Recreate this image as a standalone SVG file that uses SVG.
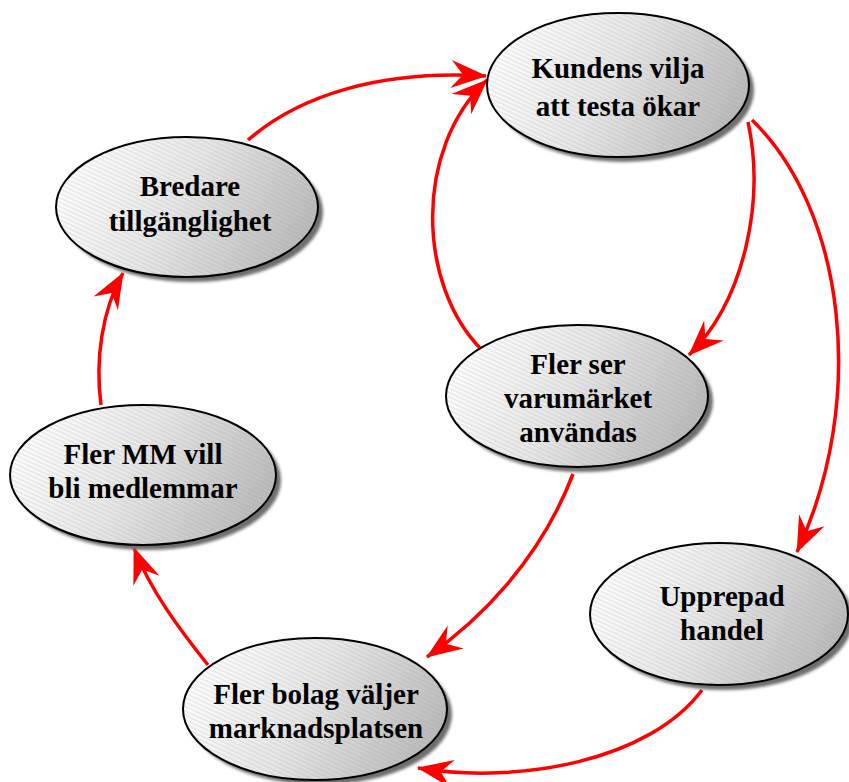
<svg xmlns="http://www.w3.org/2000/svg" width="849" height="782" viewBox="0 0 849 782">
  <defs>
    <linearGradient id="g" x1="0" y1="0.35" x2="1" y2="0.65">
      <stop offset="0" stop-color="#ffffff"/>
      <stop offset="0.45" stop-color="#e8e8e8"/>
      <stop offset="1" stop-color="#b8b8b8"/>
    </linearGradient>
    <pattern id="h" patternUnits="userSpaceOnUse" width="8" height="4" patternTransform="rotate(25)">
      <line x1="0" y1="2" x2="8" y2="2" stroke="#a0a0a0" stroke-width="0.6" stroke-opacity="0.55"/>
    </pattern>
    <filter id="blur" x="-10%" y="-10%" width="120%" height="120%">
      <feGaussianBlur stdDeviation="1.5"/>
    </filter>
    <marker id="arr" markerUnits="userSpaceOnUse" markerWidth="36" markerHeight="30" viewBox="0 0 36 30" refX="35" refY="15" orient="auto">
      <path d="M36,15 L0,1 L12,15 L0,29 Z" fill="#ff0000"/>
    </marker>
  </defs>
  <style>
    .sh { fill: #6e6e6e; filter: url(#blur); }
    .bg { fill: url(#g); }
    .ht { fill: url(#h); stroke: #000; stroke-width: 2; }
    .t { font-family: "Liberation Serif", "Times New Roman", serif; font-weight: bold; font-size: 29px; text-anchor: middle; fill: #000; }
    .c { fill: none; stroke: #ff0000; stroke-width: 3.5; marker-end: url(#arr); }
  </style>
  <rect width="849" height="782" fill="#ffffff"/>

  <g id="connectors">
    <path class="c" d="M248,140 C300,95 380,70 486,76"/>
    <path class="c" d="M481,349 C418,285 413,150 487,80"/>
    <path class="c" d="M748,122 C765,200 745,300 689,355"/>
    <path class="c" d="M752,120 C845,210 868,400 797,552"/>
    <path class="c" d="M702,690 C650,760 520,785 418,768"/>
    <path class="c" d="M573,474 C540,560 480,620 427,657"/>
    <path class="c" d="M208,665 C180,630 150,590 134,548"/>
    <path class="c" d="M101,405 C95,360 102,310 123,273"/>
  </g>

  <g id="n-kundens">
    <ellipse class="sh" cx="623" cy="90" rx="131" ry="72"/>
    <ellipse class="bg" cx="618" cy="85" rx="131" ry="72"/>
    <ellipse class="ht" cx="618" cy="85" rx="131" ry="72"/>
    <text class="t" x="618" y="78">Kundens vilja</text>
    <text class="t" x="618" y="116">att testa ökar</text>
  </g>

  <g id="n-bredare">
    <ellipse class="sh" cx="192" cy="212" rx="131" ry="70"/>
    <ellipse class="bg" cx="187" cy="207" rx="131" ry="70"/>
    <ellipse class="ht" cx="187" cy="207" rx="131" ry="70"/>
    <text class="t" x="190" y="196">Bredare</text>
    <text class="t" x="190" y="231">tillgänglighet</text>
  </g>

  <g id="n-flerser">
    <ellipse class="sh" cx="582" cy="401" rx="131" ry="71"/>
    <ellipse class="bg" cx="577" cy="396" rx="131" ry="71"/>
    <ellipse class="ht" cx="577" cy="396" rx="131" ry="71"/>
    <text class="t" x="578" y="374">Fler ser</text>
    <text class="t" x="578" y="408">varumärket</text>
    <text class="t" x="578" y="442">användas</text>
  </g>

  <g id="n-flermm">
    <ellipse class="sh" cx="148" cy="480" rx="133" ry="70"/>
    <ellipse class="bg" cx="143" cy="475" rx="133" ry="70"/>
    <ellipse class="ht" cx="143" cy="475" rx="133" ry="70"/>
    <text class="t" x="143" y="464">Fler MM vill</text>
    <text class="t" x="143" y="498">bli medlemmar</text>
  </g>

  <g id="n-upprepad">
    <ellipse class="sh" cx="724" cy="619" rx="129" ry="71"/>
    <ellipse class="bg" cx="719" cy="614" rx="129" ry="71"/>
    <ellipse class="ht" cx="719" cy="614" rx="129" ry="71"/>
    <text class="t" x="722" y="606">Upprepad</text>
    <text class="t" x="722" y="640">handel</text>
  </g>

  <g id="n-flerbolag">
    <ellipse class="sh" cx="320" cy="714" rx="132" ry="71"/>
    <ellipse class="bg" cx="315" cy="709" rx="132" ry="71"/>
    <ellipse class="ht" cx="315" cy="709" rx="132" ry="71"/>
    <text class="t" x="316" y="704">Fler bolag väljer</text>
    <text class="t" x="316" y="738">marknadsplatsen</text>
  </g>
</svg>
